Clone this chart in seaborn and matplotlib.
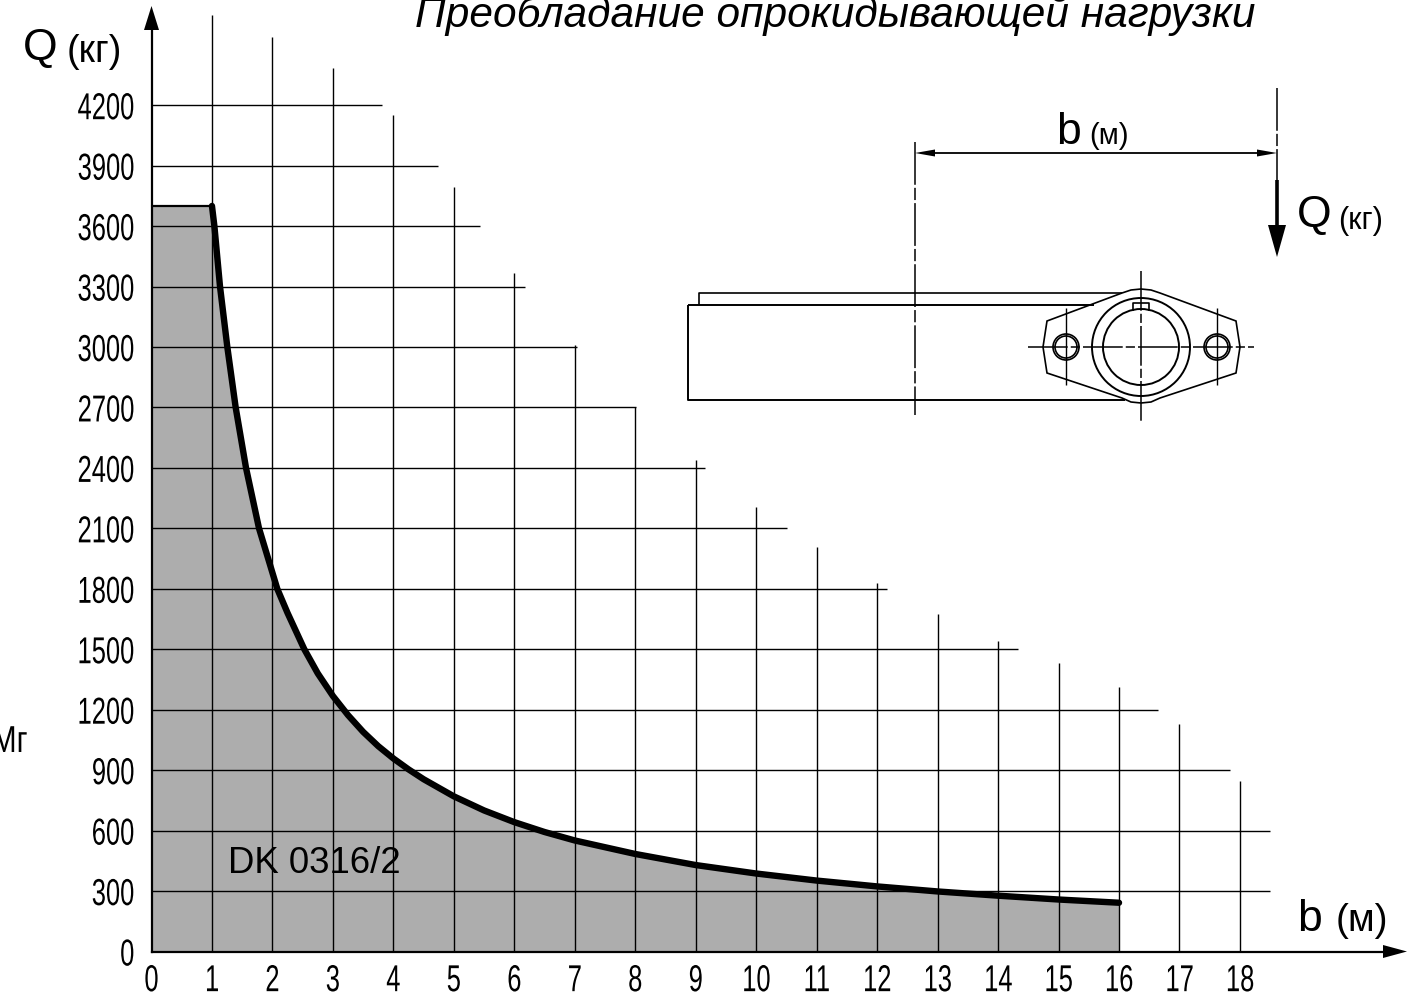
# Load chart: Q (kg) against b (m), DK 0316/2

import pandas as pd
import matplotlib.pyplot as plt
import matplotlib.patheffects as pe
from matplotlib.patches import Circle, Polygon
from matplotlib.transforms import Affine2D
import seaborn as sns

# 1) Data
b_curve = [1.0, 1.04, 1.133, 1.254, 1.392, 1.563, 1.778, 2.08, 2.25, 2.527, 2.75, 3.0, 3.25, 3.5, 3.75, 4.0, 4.25,
           4.5, 5, 5.5, 6, 6.5, 7, 8, 9, 10, 11, 12, 13, 14, 15, 16]
q_curve = [3700, 3600, 3300, 3000, 2700, 2400, 2100, 1800, 1680, 1500, 1380, 1268, 1173, 1090, 1019, 958, 904,
           855, 770, 700, 642, 593, 551, 484, 429, 387, 352, 323, 298, 277, 258, 242]

b_ticks = list(range(0, 19))
q_ticks = list(range(0, 4500, 300))

# top end of each vertical grid line, for b = 1..18
v_tops = [4648, 4538, 4385, 4151, 3794, 3367, 3010, 2702, 2439, 2206, 2007, 1829, 1675, 1541, 1432, 1313, 1130, 845]
# right end of each horizontal grid line, for Q = 300..4200
h_ends = [18.5, 18.5, 17.84, 16.65, 14.33, 12.17, 10.51, 9.16, 8.01, 7.04, 6.18, 5.43, 4.74, 3.81]

df = pd.DataFrame({'b': b_curve, 'Q': q_curve})

# 2) Theme and fonts
sns.set_theme(style='white')
plt.rcParams['font.family'] = ['Liberation Sans', 'DejaVu Sans']


# no narrow font installed, so squeeze the glyphs sideways when drawing
class Squeeze(pe.AbstractPathEffect):
    def __init__(self, sx, anchor):
        super().__init__()
        self.sx = sx
        self.anchor = anchor

    def draw_path(self, renderer, gc, tpath, affine, rgbFace=None):
        box = tpath.get_extents()
        x0 = {'left': box.x0, 'center': (box.x0 + box.x1) / 2, 'right': box.x1}[self.anchor]
        squeeze = Affine2D().translate(-x0, 0).scale(self.sx, 1).translate(x0, 0)
        renderer.draw_path(gc, tpath, squeeze + affine, rgbFace)


fig = plt.figure(figsize=(14.26, 9.97), dpi=100)

# axes fill the whole figure, limits set so b=0,Q=0 lands at px (151.5, 951.5)
ax = fig.add_axes([0, 0, 1, 1])
ax.set_xlim(-151.5 / 60.47, (1426 - 151.5) / 60.47)
ax.set_ylim(-45.5 / 0.2015, 951.5 / 0.2015)
ax.patch.set_alpha(0)

# 3) Shaded area, grid, curve
ax.fill_between([0] + b_curve, [q_curve[0]] + q_curve, color='#adadad', lw=0, zorder=1)
ax.plot([0, 1], [q_curve[0], q_curve[0]], color='black', lw=1.6, zorder=3)
ax.vlines(b_ticks[1:], 0, v_tops, color='black', lw=1.0, zorder=2)
ax.hlines(q_ticks[1:], 0, h_ends, color='black', lw=1.0, zorder=2)
sns.lineplot(data=df, x='b', y='Q', color='black', lw=4.6, ax=ax, zorder=4,
             solid_capstyle='round', solid_joinstyle='round', errorbar=None, sort=False)

# 4) Axes through the origin
for side in ['top', 'right']:
    ax.spines[side].set_visible(False)
for side in ['left', 'bottom']:
    ax.spines[side].set_position(('data', 0))
    ax.spines[side].set_linewidth(1.6)
    ax.spines[side].set_color('black')
ax.spines['left'].set_bounds(0, 4640)
ax.spines['bottom'].set_bounds(0, 20.4)
ax.set_xticks(b_ticks)
ax.set_yticks(q_ticks)
ax.tick_params(axis='x', length=0, pad=8.4, labelsize=27, labelcolor='black')
ax.tick_params(axis='y', length=0, pad=12, labelsize=27, labelcolor='black')
for lab in ax.get_xticklabels():
    lab.set_path_effects([Squeeze(0.68, 'center')])
for lab in ax.get_yticklabels():
    lab.set_path_effects([Squeeze(0.68, 'right')])
ax.set_xlabel('')
ax.set_ylabel('')

# 5) Overlay in pixel coordinates for the drawing and the loose text
ov = fig.add_axes([0, 0, 1, 1])
ov.set_xlim(0, 1426)
ov.set_ylim(997, 0)
ov.axis('off')
ov.patch.set_alpha(0)


def line(xs, ys, lw=1.2, ls='-'):
    ov.plot(xs, ys, color='black', lw=lw, ls=ls, solid_capstyle='butt', dash_capstyle='butt')


# axis arrow heads
ov.add_patch(Polygon([[144, 30], [159, 30], [151.5, 6]], color='black', lw=0))
ov.add_patch(Polygon([[1383, 945], [1383, 958], [1407, 951.5]], color='black', lw=0))

# arm
line([688, 1094], [305, 305], lw=1.4)
line([688, 688, 1125], [305, 400, 400], lw=1.4)
line([699, 699, 1122], [305, 293, 293])

# flange
flange = [[1122, 293], [1131, 290], [1141, 289], [1151, 290], [1160, 293], [1236, 321], [1240, 347], [1236, 373],
          [1160, 398], [1151, 402], [1141, 403], [1131, 402], [1122, 398], [1047, 373], [1043, 347], [1047, 321]]
ov.add_patch(Polygon(flange, closed=True, fill=False, ec='black', lw=1.2))
ov.add_patch(Circle((1141, 347), 49, fill=False, ec='black', lw=1.4))
ov.add_patch(Circle((1141, 347), 38, fill=False, ec='black', lw=1.4))
line([1133, 1133, 1149, 1149], [311, 303, 303, 311])
for cx in [1066, 1217]:
    ov.add_patch(Circle((cx, 347), 13, fill=False, ec='black', lw=1.2))
    ov.add_patch(Circle((cx, 347), 11, fill=False, ec='black', lw=1.2))
    line([cx, cx], [308, 385], lw=1.0)

# centre lines
line([1028, 1254], [347, 347], lw=1.1, ls=(0, (26, 2, 6, 2)))
line([1141, 1141], [271, 423], lw=1.1, ls=(0, (26, 2, 6, 2)))
line([915, 915], [142, 415], lw=1.1, ls=(0, (28, 2, 8, 2)))
line([1277, 1277], [88, 180], lw=1.1, ls=(0, (28, 2, 8, 2)))

# dimension and load
line([935, 1257], [153, 153], lw=1.3)
ov.add_patch(Polygon([[915, 153], [935, 149.5], [935, 156.5]], color='black', lw=0))
ov.add_patch(Polygon([[1277, 153], [1257, 149.5], [1257, 156.5]], color='black', lw=0))
line([1277, 1277], [180, 226], lw=2.6)
ov.add_patch(Polygon([[1268, 225], [1286, 225], [1277, 257]], color='black', lw=0))

# text
ov.text(23, 60, 'Q', fontsize=32, color='black', va='baseline')
ov.text(67, 62, '(кг)', fontsize=27, color='black', va='baseline')
ov.text(1056, 144, 'b', fontsize=32, color='black', va='baseline')
ov.text(1089, 144, '(м)', fontsize=21, color='black', va='baseline')
ov.text(1297, 227, 'Q', fontsize=32, color='black', va='baseline')
ov.text(1338, 229, '(кг)', fontsize=22, color='black', va='baseline')
ov.text(1297, 931, 'b', fontsize=32, color='black', va='baseline')
ov.text(1336, 931, '(м)', fontsize=28, color='black', va='baseline')
ov.text(228, 873, 'DK 0316/2', fontsize=26.4, color='black', va='baseline')
mg = ov.text(28, 752, 'Мг', fontsize=27, color='black', ha='right', va='baseline')
mg.set_path_effects([Squeeze(0.8, 'right')])
ov.text(835, 27, 'Преобладание опрокидывающей нагрузки', fontsize=30.5, style='italic',
        color='black', ha='center', va='baseline')

fig.savefig('out.png', dpi=100)
